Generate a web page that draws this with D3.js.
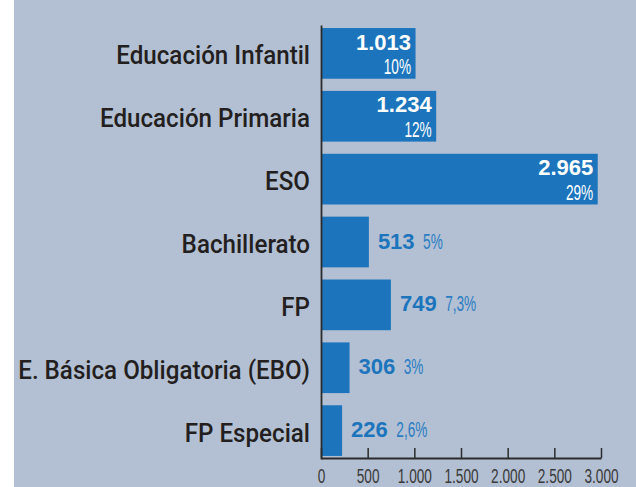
<!DOCTYPE html>
<html>
<head>
<meta charset="utf-8">
<script src="https://cdn.jsdelivr.net/npm/d3@7"></script>
<style>
  body { margin: 0; background: #fff; }
</style>
</head>
<body>
<div id="chart"></div>
<script>
const categories = ['Educación Infantil', 'Educación Primaria', 'ESO', 'Bachillerato', 'FP', 'E. Básica Obligatoria (EBO)', 'FP Especial'];
const values = [1013, 1234, 2965, 513, 749, 306, 226];
const valueLabels = ['1.013', '1.234', '2.965', '513', '749', '306', '226'];
const pctLabels = ['10%', '12%', '29%', '5%', '7,3%', '3%', '2,6%'];
const ticks = [0, 500, 1000, 1500, 2000, 2500, 3000];
const tickLabels = ['0', '500', '1.000', '1.500', '2.000', '2.500', '3.000'];

const w = 636;
const h = 487;
const catScale = 0.93;   // horizontal squeeze for category labels
const thinScale = 0.62;  // squeeze for percent and tick labels

const svg = d3.select('#chart')
    .append('svg')
    .attr('width', w)
    .attr('height', h);

svg.append('rect')
    .attr('x', 14)
    .attr('y', 0)
    .attr('width', w - 14)
    .attr('height', h)
    .attr('fill', '#b3c0d3');

const xScale = d3.scaleLinear()
    .domain([0, 3000])
    .range([321, 601]);

const yScale = d3.scaleBand()
    .domain(categories)
    .range([25, 459])
    .paddingInner(12 / 62)
    .paddingOuter(6 / 62 / 2);

const data = categories.map((c, i) => ({
    cat: c, value: values[i], label: valueLabels[i], pct: pctLabels[i], inside: values[i] > 900
}));

// bars
svg.selectAll('rect.bar')
    .data(data)
    .enter()
    .append('rect')
    .attr('class', 'bar')
    .attr('x', xScale(0))
    .attr('y', d => yScale(d.cat))
    .attr('width', d => xScale(d.value) - xScale(0))
    .attr('height', yScale.bandwidth())
    .attr('fill', '#1c75bc');

// category axis
const yAxis = d3.axisLeft(yScale).tickSize(0).tickPadding(11);
const gy = svg.append('g')
    .attr('transform', 'translate(' + xScale(0) + ',0)')
    .call(yAxis);
gy.select('.domain').attr('stroke', '#2b2b2b').attr('stroke-width', 1.8);
gy.selectAll('text')
    .attr('x', -11 / catScale)
    .attr('dy', '0.42em')
    .attr('transform', 'scale(' + catScale + ',1)')
    .attr('fill', '#231f20')
    .style('font-family', 'Roboto, sans-serif')
    .style('font-weight', '500')
    .style('font-size', '26px');

// x axis
const xAxis = d3.axisBottom(xScale)
    .tickValues(ticks)
    .tickFormat((d, i) => tickLabels[i])
    .tickSizeInner(-10)
    .tickSizeOuter(0)
    .tickPadding(10);
const gx = svg.append('g')
    .attr('transform', 'translate(0,458)')
    .call(xAxis);
gx.select('.domain').attr('stroke', '#2b2b2b').attr('stroke-width', 1.8);
gx.selectAll('.tick line').attr('stroke', '#2b2b2b').attr('stroke-width', 1.5);
gx.selectAll('.tick text')
    .attr('fill', '#3a3a3a')
    .attr('transform', 'scale(0.65,1)')
    .style('font-family', '"Liberation Sans", sans-serif')
    .style('font-size', '21px');

// value labels
const lab = svg.selectAll('g.lab')
    .data(data)
    .enter()
    .append('g')
    .attr('class', 'lab');

// inside labels
lab.filter(d => d.inside).each(function(d) {
    const g = d3.select(this);
    const xr = xScale(d.value) - 4.5;
    const y0 = yScale(d.cat);
    g.append('text')
        .attr('x', xr)
        .attr('y', y0 + 21.5)
        .attr('text-anchor', 'end')
        .attr('fill', '#fff')
        .style('font-family', '"Liberation Sans", Arial, sans-serif')
        .style('font-weight', 'bold')
        .style('font-size', '22px')
        .text(d.label);
    g.append('text')
        .attr('transform', 'translate(' + xr + ',' + (y0 + 46) + ') scale(' + thinScale + ',1)')
        .attr('text-anchor', 'end')
        .attr('fill', '#fff')
        .style('font-family', '"Liberation Sans", sans-serif')
        .style('font-size', '22px')
        .text(d.pct);
});

// outside labels
lab.filter(d => !d.inside).each(function(d) {
    const g = d3.select(this);
    const x0 = xScale(d.value) + 9;
    const yb = yScale(d.cat) + yScale.bandwidth() / 2 + 6.5;
    const t = g.append('text')
        .attr('x', x0)
        .attr('y', yb)
        .attr('fill', '#1c75bc')
        .style('font-family', '"Liberation Sans", Arial, sans-serif')
        .style('font-weight', 'bold')
        .style('font-size', '22px')
        .text(d.label);
    const tw = t.node().getComputedTextLength();
    g.append('text')
        .attr('transform', 'translate(' + (x0 + tw + 8.5) + ',' + yb + ') scale(' + thinScale + ',1)')
        .attr('fill', '#2a7cc2')
        .style('font-family', '"Liberation Sans", sans-serif')
        .style('font-size', '22px')
        .text(d.pct);
});
</script>
</body>
</html>
